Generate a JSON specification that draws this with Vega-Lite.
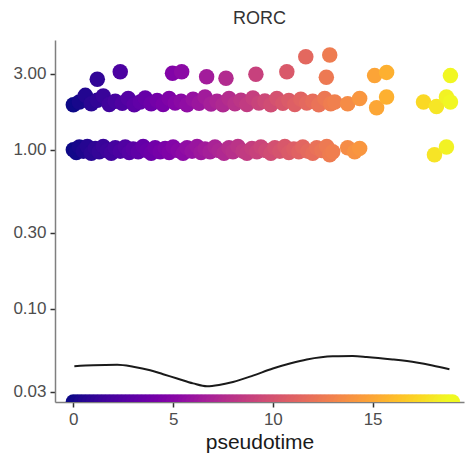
{
  "$schema": "https://vega.github.io/schema/vega-lite/v6.json",
  "autosize": "none",
  "width": 409,
  "height": 362,
  "padding": {"left": 55, "top": 40, "right": 1, "bottom": 60},
  "background": "white",
  "title": {"text": "RORC", "fontSize": 18, "font": "Liberation Sans", "fontWeight": "normal", "color": "#333333", "offset": 12},
  "datasets": {
    "cells": [
      {"t": 0.0, "e": 0}, {"t": 0.2, "e": 0}, {"t": 0.4, "e": 0}, {"t": 0.6, "e": 0}, {"t": 0.8, "e": 0},
      {"t": 1.0, "e": 0}, {"t": 1.2, "e": 0}, {"t": 1.4, "e": 0}, {"t": 1.6, "e": 0}, {"t": 1.8, "e": 0},
      {"t": 2.0, "e": 0}, {"t": 2.2, "e": 0}, {"t": 2.4, "e": 0}, {"t": 2.6, "e": 0}, {"t": 2.8, "e": 0},
      {"t": 3.0, "e": 0}, {"t": 3.2, "e": 0}, {"t": 3.4, "e": 0}, {"t": 3.6, "e": 0}, {"t": 3.8, "e": 0},
      {"t": 4.0, "e": 0}, {"t": 4.2, "e": 0}, {"t": 4.4, "e": 0}, {"t": 4.6, "e": 0}, {"t": 4.8, "e": 0},
      {"t": 5.0, "e": 0}, {"t": 5.2, "e": 0}, {"t": 5.4, "e": 0}, {"t": 5.6, "e": 0}, {"t": 5.8, "e": 0},
      {"t": 6.0, "e": 0}, {"t": 6.2, "e": 0}, {"t": 6.4, "e": 0}, {"t": 6.6, "e": 0}, {"t": 6.8, "e": 0},
      {"t": 7.0, "e": 0}, {"t": 7.2, "e": 0}, {"t": 7.4, "e": 0}, {"t": 7.6, "e": 0}, {"t": 7.8, "e": 0},
      {"t": 8.0, "e": 0}, {"t": 8.2, "e": 0}, {"t": 8.4, "e": 0}, {"t": 8.6, "e": 0}, {"t": 8.8, "e": 0},
      {"t": 9.0, "e": 0}, {"t": 9.2, "e": 0}, {"t": 9.4, "e": 0}, {"t": 9.6, "e": 0}, {"t": 9.8, "e": 0},
      {"t": 10.0, "e": 0}, {"t": 10.2, "e": 0}, {"t": 10.4, "e": 0}, {"t": 10.6, "e": 0}, {"t": 10.8, "e": 0},
      {"t": 11.0, "e": 0}, {"t": 11.2, "e": 0}, {"t": 11.4, "e": 0}, {"t": 11.6, "e": 0}, {"t": 11.8, "e": 0},
      {"t": 12.0, "e": 0}, {"t": 12.2, "e": 0}, {"t": 12.4, "e": 0}, {"t": 12.6, "e": 0}, {"t": 12.8, "e": 0},
      {"t": 13.0, "e": 0}, {"t": 13.2, "e": 0}, {"t": 13.4, "e": 0}, {"t": 13.6, "e": 0}, {"t": 13.8, "e": 0},
      {"t": 14.0, "e": 0}, {"t": 14.2, "e": 0}, {"t": 14.4, "e": 0}, {"t": 14.6, "e": 0}, {"t": 14.8, "e": 0},
      {"t": 15.0, "e": 0}, {"t": 15.2, "e": 0}, {"t": 15.4, "e": 0}, {"t": 15.6, "e": 0}, {"t": 15.8, "e": 0},
      {"t": 16.0, "e": 0}, {"t": 16.2, "e": 0}, {"t": 16.4, "e": 0}, {"t": 16.6, "e": 0}, {"t": 16.8, "e": 0},
      {"t": 17.0, "e": 0}, {"t": 17.2, "e": 0}, {"t": 17.4, "e": 0}, {"t": 17.6, "e": 0}, {"t": 17.8, "e": 0},
      {"t": 18.0, "e": 0}, {"t": 18.2, "e": 0}, {"t": 18.4, "e": 0}, {"t": 18.6, "e": 0}, {"t": 18.8, "e": 0},
      {"t": 19.0, "e": 0},

      {"t": 0.0, "e": 1.0}, {"t": 0.15, "e": 0.96}, {"t": 0.3, "e": 1.04}, {"t": 0.5, "e": 0.98}, {"t": 0.7, "e": 1.05},
      {"t": 0.9, "e": 0.95}, {"t": 1.1, "e": 1.02}, {"t": 1.3, "e": 0.97}, {"t": 1.5, "e": 1.05}, {"t": 1.7, "e": 0.99},
      {"t": 1.9, "e": 0.95}, {"t": 2.1, "e": 1.03}, {"t": 2.35, "e": 0.98}, {"t": 2.6, "e": 1.04}, {"t": 2.8, "e": 0.96},
      {"t": 3.0, "e": 1.01}, {"t": 3.25, "e": 0.97}, {"t": 3.5, "e": 1.05}, {"t": 3.7, "e": 0.99}, {"t": 3.9, "e": 0.95},
      {"t": 4.1, "e": 1.03}, {"t": 4.35, "e": 0.97}, {"t": 4.6, "e": 1.02}, {"t": 4.8, "e": 0.96}, {"t": 5.0, "e": 1.04},
      {"t": 5.25, "e": 0.99}, {"t": 5.5, "e": 0.95}, {"t": 5.7, "e": 1.03}, {"t": 5.95, "e": 0.98}, {"t": 6.2, "e": 1.05},
      {"t": 6.4, "e": 0.96}, {"t": 6.6, "e": 1.01}, {"t": 6.85, "e": 0.97}, {"t": 7.1, "e": 1.04}, {"t": 7.3, "e": 0.99},
      {"t": 7.55, "e": 0.95}, {"t": 7.8, "e": 1.03}, {"t": 8.0, "e": 0.97}, {"t": 8.25, "e": 1.05}, {"t": 8.5, "e": 0.98},
      {"t": 8.7, "e": 0.95}, {"t": 8.95, "e": 1.02}, {"t": 9.2, "e": 0.97}, {"t": 9.4, "e": 1.04}, {"t": 9.65, "e": 0.99},
      {"t": 9.9, "e": 0.95}, {"t": 10.1, "e": 1.03}, {"t": 10.35, "e": 0.98}, {"t": 10.6, "e": 1.05}, {"t": 10.8, "e": 0.96},
      {"t": 11.05, "e": 1.01}, {"t": 11.3, "e": 0.97}, {"t": 11.5, "e": 1.04}, {"t": 11.75, "e": 0.98}, {"t": 12.0, "e": 0.95},
      {"t": 12.2, "e": 1.03}, {"t": 12.45, "e": 0.99}, {"t": 12.7, "e": 1.05}, {"t": 12.85, "e": 0.93}, {"t": 13.0, "e": 0.97},
      {"t": 13.75, "e": 1.03}, {"t": 14.1, "e": 0.97}, {"t": 14.35, "e": 1.02}, {"t": 18.1, "e": 0.93}, {"t": 18.7, "e": 1.04},

      {"t": 0.0, "e": 1.92}, {"t": 0.3, "e": 2.0}, {"t": 0.6, "e": 2.2}, {"t": 0.9, "e": 1.95}, {"t": 1.2, "e": 2.05},
      {"t": 1.5, "e": 2.18}, {"t": 1.8, "e": 1.93}, {"t": 2.1, "e": 2.02}, {"t": 2.45, "e": 1.96}, {"t": 2.75, "e": 2.1},
      {"t": 3.05, "e": 1.92}, {"t": 3.35, "e": 2.0}, {"t": 3.6, "e": 2.12}, {"t": 3.9, "e": 1.95}, {"t": 4.2, "e": 2.04},
      {"t": 4.5, "e": 1.93}, {"t": 4.8, "e": 2.1}, {"t": 5.1, "e": 1.97}, {"t": 5.4, "e": 2.02}, {"t": 5.7, "e": 1.92},
      {"t": 6.0, "e": 2.08}, {"t": 6.3, "e": 1.96}, {"t": 6.6, "e": 2.15}, {"t": 6.9, "e": 1.94}, {"t": 7.2, "e": 2.02},
      {"t": 7.5, "e": 1.92}, {"t": 7.8, "e": 2.1}, {"t": 8.1, "e": 1.95}, {"t": 8.4, "e": 2.05}, {"t": 8.7, "e": 1.93},
      {"t": 9.0, "e": 2.12}, {"t": 9.3, "e": 1.97}, {"t": 9.6, "e": 2.03}, {"t": 9.9, "e": 1.92}, {"t": 10.2, "e": 2.1},
      {"t": 10.5, "e": 1.96}, {"t": 10.8, "e": 2.04}, {"t": 11.1, "e": 1.93}, {"t": 11.4, "e": 2.08}, {"t": 11.7, "e": 1.97},
      {"t": 12.0, "e": 2.02}, {"t": 12.3, "e": 1.92}, {"t": 12.6, "e": 2.1}, {"t": 12.9, "e": 1.95}, {"t": 13.1, "e": 2.0},
      {"t": 13.75, "e": 1.95}, {"t": 14.35, "e": 2.1}, {"t": 15.2, "e": 1.84}, {"t": 15.7, "e": 2.15}, {"t": 17.55, "e": 2.0},
      {"t": 18.2, "e": 1.87}, {"t": 18.7, "e": 2.15}, {"t": 18.9, "e": 2.0},

      {"t": 1.2, "e": 2.78}, {"t": 2.35, "e": 3.1}, {"t": 4.97, "e": 3.03}, {"t": 5.43, "e": 3.1}, {"t": 6.68, "e": 2.88},
      {"t": 7.65, "e": 2.82}, {"t": 9.15, "e": 2.99}, {"t": 10.7, "e": 3.1}, {"t": 11.65, "e": 3.85}, {"t": 12.85, "e": 3.95},
      {"t": 12.68, "e": 2.86}, {"t": 15.1, "e": 2.93}, {"t": 15.7, "e": 3.07}, {"t": 18.9, "e": 2.93}
    ],
    "fit": [
      {"t": 0.05, "f": 0.0434}, {"t": 1.0, "f": 0.0440}, {"t": 2.2, "f": 0.0442}, {"t": 3.0, "f": 0.0430},
      {"t": 3.85, "f": 0.0409}, {"t": 4.5, "f": 0.0386}, {"t": 5.2, "f": 0.0363}, {"t": 6.0, "f": 0.0338},
      {"t": 6.7, "f": 0.0324}, {"t": 7.3, "f": 0.0330}, {"t": 8.0, "f": 0.0345}, {"t": 9.0, "f": 0.0378},
      {"t": 10.0, "f": 0.0419}, {"t": 10.9, "f": 0.0452}, {"t": 11.7, "f": 0.0478}, {"t": 13.0, "f": 0.0501},
      {"t": 14.0, "f": 0.0502}, {"t": 14.7, "f": 0.0496}, {"t": 16.0, "f": 0.0478}, {"t": 17.2, "f": 0.0457},
      {"t": 18.0, "f": 0.0438}, {"t": 18.85, "f": 0.0415}
    ]
  },
  "layer": [
    {
      "data": {"name": "cells"},
      "mark": {"type": "point", "filled": true, "shape": "circle", "size": 240, "opacity": 1, "clip": true, "invalid": "show"},
      "encoding": {
        "x": {"field": "t", "type": "quantitative"},
        "y": {"field": "e", "type": "quantitative"},
        "color": {"field": "t", "type": "quantitative", "scale": {"scheme": "plasma", "domain": [0, 19]}, "legend": null}
      }
    },
    {
      "data": {"name": "fit"},
      "mark": {"type": "line", "color": "#1a1a1a", "strokeWidth": 2, "interpolate": "monotone"},
      "encoding": {
        "x": {"field": "t", "type": "quantitative"},
        "y": {"field": "f", "type": "quantitative"}
      }
    }
  ],
  "encoding": {
    "x": {
      "field": "t", "type": "quantitative",
      "scale": {"domain": [-0.92, 19.58], "nice": false, "zero": false},
      "axis": {"title": "pseudotime", "values": [0, 5, 10, 15], "titleFontSize": 21, "titleColor": "#1a1a1a", "titlePadding": 4}
    },
    "y": {
      "field": "e", "type": "quantitative",
      "scale": {"type": "log", "domain": [0.0258, 4.91], "nice": false, "clamp": true},
      "axis": {"title": null, "values": [0.03, 0.1, 0.3, 1, 3], "format": ".2f"}
    }
  },
  "config": {
    "view": {"stroke": null},
    "font": "Liberation Sans",
    "axis": {
      "grid": false,
      "domainColor": "#7f7f7f",
      "domainWidth": 1.5,
      "tickColor": "#333333",
      "tickWidth": 1.5,
      "tickSize": 5,
      "labelColor": "#4d4d4d",
      "labelFontSize": 17,
      "labelFont": "Liberation Sans",
      "labelPadding": 4,
      "titleFont": "Liberation Sans",
      "titleFontWeight": "normal"
    }
  }
}
